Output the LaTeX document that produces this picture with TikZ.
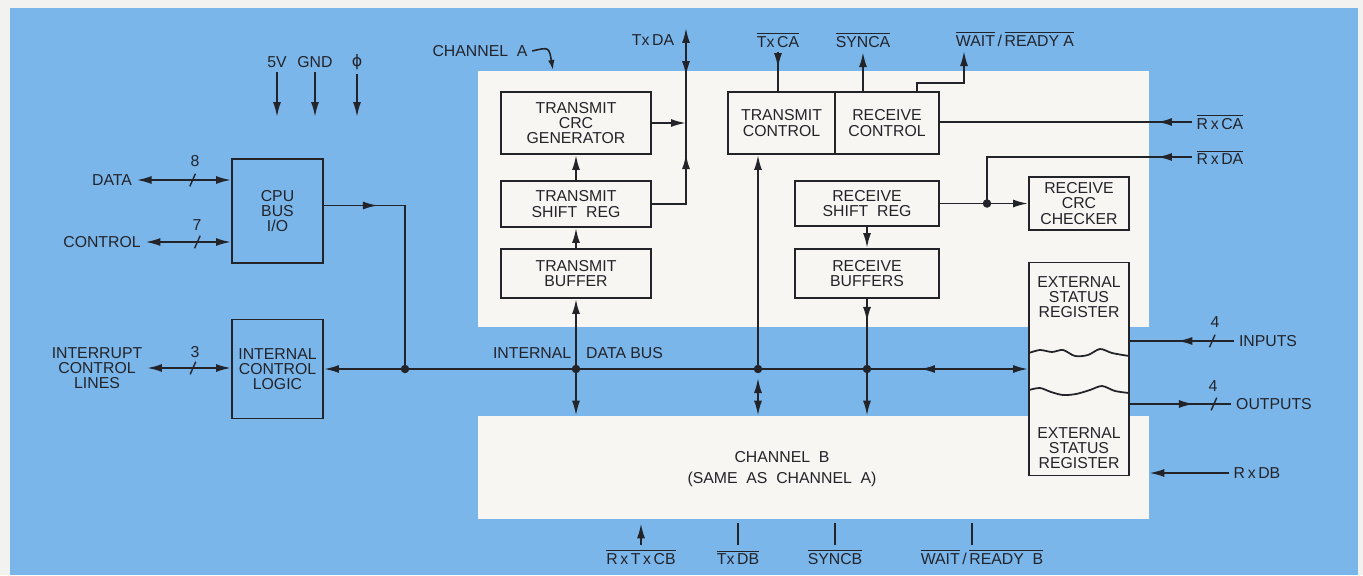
\documentclass[tikz,border=0pt]{standalone}
\usepackage{fontspec}
\setmainfont{Liberation Sans}
\newfontfamily\symfont{DejaVu Sans}
\usepackage{tikz}
\usetikzlibrary{arrows.meta, positioning, decorations.markings}
\usepackage{xcolor}

\definecolor{skyc}{RGB}{122,182,234}
\definecolor{panelc}{RGB}{247,246,242}
\definecolor{marginc}{RGB}{242,242,240}
\definecolor{inkc}{RGB}{35,35,42}

\newcommand{\blkfont}{\fontsize{9}{8.6}\selectfont}
\newcommand{\barsig}[1]{$\overline{\mbox{#1}}$}

\begin{document}
\begin{tikzpicture}[
    x=0.02cm, y=-0.02cm,
    >={Latex[length=3mm,width=1.6mm]},
    blk/.style={rectangle, draw=inkc, line width=1.1pt, align=center,
                font=\blkfont, text=inkc, inner sep=2pt},
    pnl/.style={rectangle, fill=panelc, draw=none, inner sep=0pt},
    lbl/.style={font=\blkfont, text=inkc, inner sep=2.5pt, align=center},
    wire/.style={inkc, line width=1.1pt},
    midarr/.style={postaction={decorate, decoration={markings,
                   mark=at position #1 with {\arrow{>}}}}},
    midrev/.style={postaction={decorate, decoration={markings,
                   mark=at position #1 with {\arrow{<}}}}},
    busw/.style={postaction={decorate, decoration={markings,
                 mark=at position #1 with {\draw[inkc, line width=0.8pt, -]
                 (-1.6pt,-3.6pt) -- (1.6pt,3.6pt);}}}},
]
  \useasboundingbox (0,0) rectangle (1363,575);

  % ---- background ----
  \fill[marginc] (0,0) rectangle (1363,575);
  \fill[skyc] (10,8) rectangle (1358,575);

  % ---- channel panels ----
  \node[pnl, minimum width=13.42cm, minimum height=5.12cm] (cha) at (813.5,199) {};
  \node[pnl, minimum width=13.42cm, minimum height=2.06cm] (chb) at (813.5,467.5) {};
  \node[lbl] (chbt) at (782,469.5) {CHANNEL\ \ B\\[3.4pt](SAME\ \ AS\ \ CHANNEL\ \ A)};

  % ---- cpu side ----
  \node[lbl] (v5)  at (277,62) {5V};
  \node[lbl] (gnd) at (315,62) {GND};
  \node[lbl] (phi) at (357,62) {{\symfont ϕ}};
  \coordinate (pwr) at (300,117);

  \node[blk, minimum width=1.82cm, minimum height=2.08cm] (cpu) at (277.5,211) {CPU\\BUS\\I/O};
  \node[blk, minimum width=1.82cm, minimum height=1.98cm] (icl) at (277.5,369) {INTERNAL\\CONTROL\\LOGIC};

  \node[lbl] (data) at (112,180) {DATA};
  \node[lbl] (ctrl) at (102,242) {CONTROL};
  \node[lbl] (intr) at (97,368) {INTERRUPT\\CONTROL\\LINES};
  \node[lbl] (n8) at (195,161) {8};
  \node[lbl] (n7) at (197,225) {7};
  \node[lbl] (n3) at (195,352) {3};

  % ---- channel A blocks ----
  \node[lbl] (chal) at (480,51) {CHANNEL\ \ A};
  \coordinate (chaend) at (553,70);

  \node[blk, minimum width=3cm, minimum height=1.24cm] (tcrc) at (576,123) {TRANSMIT\\CRC\\GENERATOR};
  \node[blk, minimum width=3cm, minimum height=0.92cm] (tsr)  at (576,204) {TRANSMIT\\SHIFT\ \ REG};
  \node[blk, minimum width=3cm, minimum height=0.98cm] (tbuf) at (576,273.5) {TRANSMIT\\BUFFER};

  \node[blk, minimum width=2.14cm, minimum height=1.24cm] (tctl) at (781.5,123) {TRANSMIT\\CONTROL};
  \node[blk, minimum width=2.08cm, minimum height=1.24cm] (rctl) at (887,123) {RECEIVE\\CONTROL};
  \node[blk, minimum width=2.88cm, minimum height=0.90cm] (rsr)  at (867,203.5) {RECEIVE\\SHIFT\ \ REG};
  \node[blk, minimum width=2.88cm, minimum height=0.98cm] (rbuf) at (867,273.5) {RECEIVE\\BUFFERS};
  \node[blk, minimum width=2cm, minimum height=1.06cm] (rcrc) at (1079,203.5) {RECEIVE\\CRC\\CHECKER};

  \node[blk, fill=panelc, minimum width=2cm, minimum height=4.26cm] (esr) at (1079,369) {};
  \node[lbl] (esrt) at (1079,297) {EXTERNAL\\STATUS\\REGISTER};
  \node[lbl] (esrb) at (1079,448) {EXTERNAL\\STATUS\\REGISTER};

  % ---- signal labels ----
  \node[lbl] (txda)  at (653,40) {Tx\,DA};
  \node[lbl] (txca)  at (778,40) {\barsig{Tx\,CA}};
  \node[lbl] (synca) at (863,40) {\barsig{SYNCA}};
  \node[lbl] (waita) at (1015,39) {\barsig{WAIT}\,/\,\barsig{READY\ A}};
  \node[lbl] (rxca)  at (1220,122) {\barsig{R\,x\,CA}};
  \node[lbl] (rxda)  at (1220,157) {\barsig{R\,x\,DA}};
  \node[lbl] (inputs)  at (1268,341) {INPUTS};
  \node[lbl] (outputs) at (1274,404) {OUTPUTS};
  \node[lbl] (n4i) at (1215,322) {4};
  \node[lbl] (n4o) at (1213,386) {4};
  \node[lbl] (rxdb) at (1257,473) {R\,x\,DB};

  \node[lbl] (rxtxcb) at (641,557) {\barsig{R\,x\,T\,x\,CB}};
  \node[lbl] (txdb)   at (738,557) {\barsig{Tx\,DB}};
  \node[lbl] (syncb)  at (835,557) {\barsig{SYNCB}};
  \node[lbl] (waitb)  at (982,557) {\barsig{WAIT}\,/\,\barsig{READY\ \ B}};

  \node[lbl] (busl) at (578,353) {INTERNAL\hspace{0.3cm}DATA BUS};

  % ---- bus junctions ----
  \coordinate (jcpu) at (405,369);
  \coordinate (jtb)  at (576,369);
  \coordinate (jtc)  at (758,369);
  \coordinate (jrb)  at (867,369);
  \coordinate (jrx)  at (987,203.5);
  \coordinate (ctxd) at (686,28);
  \coordinate (cwr)  at (964,83);

  % ---- power pins ----
  \draw[wire, ->] (v5.south)  -- (v5.south  |- pwr);
  \draw[wire, ->] (gnd.south) -- (gnd.south |- pwr);
  \draw[wire, ->] (phi.south) -- (phi.south |- pwr);

  % ---- cpu interface ----
  \draw[wire, <->, busw=1.12cm] (data) -- (data -| cpu.west);
  \draw[wire, <->, busw=1.04cm] (ctrl) -- (ctrl -| cpu.west);
  \draw[wire, <->, busw=0.92cm] (intr) -- (intr -| icl.west);
  \draw[wire, midarr=1.08cm] ([yshift=0.11cm]cpu.east) -| (jcpu);

  % ---- internal data bus ----
  \draw[wire, ->] (jcpu) -- (icl.east);
  \draw[wire] (jcpu) -- (jrb);
  \draw[wire, ->, midrev=1.36cm] (jrb) -- (esr.west |- jrb);

  \draw[wire, ->] (jtb) -- (tbuf);
  \draw[wire, ->] (jtb) -- (jtb |- chb.north);
  \draw[wire, ->] (tbuf) -- (tsr);
  \draw[wire, ->] (tsr) -- (tcrc);

  \draw[wire, ->] (jtc) -- (jtc |- tctl.south);
  \draw[wire, <->, shorten <=0.18cm] (jtc) -- (jtc |- chb.north);

  \draw[wire, midarr=0.46cm] (rbuf) -- (jrb);
  \draw[wire, ->] (jrb) -- (jrb |- chb.north);
  \draw[wire, ->] (rsr) -- (rbuf);

  % ---- channel A pins ----
  \draw[wire, ->, midarr=1.68cm, midrev=3.54cm] (tsr.east) -| (ctxd);
  \draw[wire, ->] (tcrc.east) -- (tcrc.east -| ctxd);
  \draw[wire, midarr=0.32cm] (txca) -- (txca |- tctl.north);
  \draw[wire, ->] (synca |- rctl.north) -- (synca);
  \draw[wire, ->] ([xshift=0.6cm]rctl.north) |- (cwr) -- (cwr |- waita.south);
  \draw[wire, midarr=0.7cm] (rxca.west) -- (rxca.west -| rctl.east);
  \draw[wire, ->, midarr=0.7cm] (rxda.west) -| (jrx) -- (rcrc.west);
  \draw[wire] (rsr.east) -- (jrx);

  % ---- external status ----
  \draw[wire, midarr=1.14cm, busw=0.44cm] (inputs.west) -- (inputs.west -| esr.east);
  \draw[wire, midarr=1.28cm, busw=1.68cm] (esr.east |- outputs.west) -- (outputs.west);
  \draw[inkc, line width=1pt] plot[smooth] coordinates {(1029,353) (1040,350) (1052,352)
    (1063,350) (1075,356) (1088,355) (1100,349) (1112,353) (1129,356)};
  \draw[inkc, line width=1pt] plot[smooth] coordinates {(1029,390) (1040,388) (1051,392)
    (1063,395) (1076,394) (1090,390) (1102,386) (1115,391) (1129,393)};

  % ---- channel B pins ----
  \draw[wire, ->] (rxdb.west) -- (rxdb.west -| chb.east);
  \draw[wire, ->, shorten >=0.08cm] (rxtxcb) -- (rxtxcb |- chb.south);
  \draw[wire, shorten >=0.08cm] (txdb) -- (txdb |- chb.south);
  \draw[wire, shorten >=0.08cm] (syncb) -- (syncb |- chb.south);
  \draw[wire, shorten >=0.08cm] ([xshift=-0.2cm]waitb.north) -- ([xshift=-0.2cm]waitb.north |- chb.south);

  % ---- channel A pointer ----
  \draw[inkc, line width=0.9pt, -{Latex[length=2mm,width=1.3mm]}]
    (chal.east) .. controls (549,47) .. (chaend);

  % ---- dots ----
  \foreach \j in {jcpu, jtb, jtc, jrb, jrx}
    \fill[inkc] (\j) circle[radius=0.085cm];
\end{tikzpicture}
\end{document}
